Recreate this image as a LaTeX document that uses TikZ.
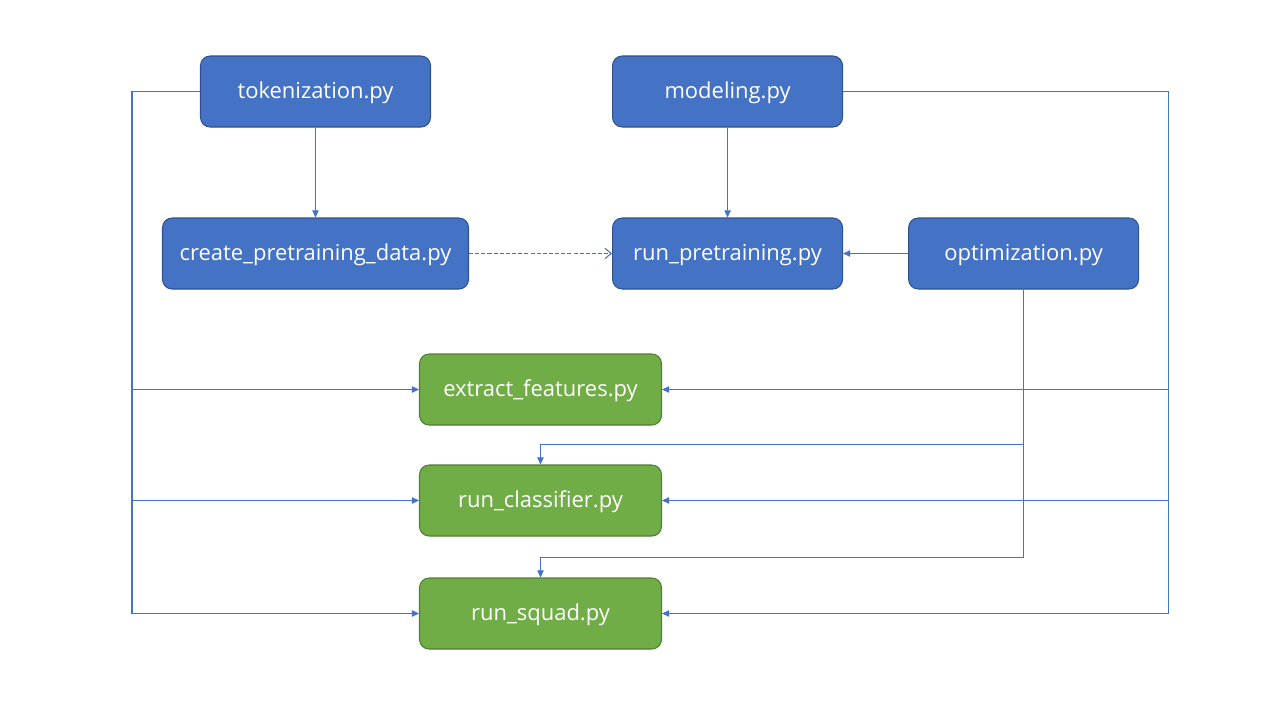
\documentclass[tikz,border=0pt]{standalone}
\usepackage{fontspec}
\setmainfont{Open Sans}
\usepackage{tikz}
\usetikzlibrary{arrows.meta,positioning}

\definecolor{boxblue}{HTML}{4472C4}
\definecolor{edgeblue}{HTML}{2F528F}
\definecolor{boxgreen}{HTML}{70AD47}
\definecolor{edgegreen}{HTML}{507E32}

\begin{document}
\begin{tikzpicture}[node distance=1.82cm,
                    font=\fontsize{12.5}{15}\selectfont,
                    module/.style={draw=edgeblue,fill=boxblue,text=white,rounded corners=5.5pt,
                                   line width=0.6pt,minimum width=4.6cm,minimum height=1.42cm,
                                   text height=0.9em,text depth=0.1em},
                    script/.style={module,draw=edgegreen,fill=boxgreen,minimum width=4.84cm},
                    link/.style={draw=boxblue,line width=0.6pt,-{Triangle[length=4pt,width=3.6pt]}},
                    soft/.style={draw=boxblue,line width=0.6pt,dash pattern=on 2.3pt off 1.2pt,
                                 -{Straight Barb[length=3.6pt,width=6pt]}}]

        \useasboundingbox (0,0) rectangle (25.6,-14.4);

        \node[module]            (tok) at (6.31,-1.83)         {tokenization.py};
        \node[module]            (mod) [right=3.62cm of tok]   {modeling.py};
        \node[module,minimum width=6.12cm] (pre) [below of=tok,node distance=3.24cm] {create\_pretraining\_data.py};
        \node[module]            (run) [below of=mod,node distance=3.24cm] {run\_pretraining.py};
        \node[module]            (opt) [right=1.3cm of run]    {optimization.py};
        \node[script]            (ext) at (10.81,-7.79)        {extract\_features.py};
        \node[script]            (cls) at (10.81,-10.01)       {run\_classifier.py};
        \node[script]            (squad) at (10.81,-12.27)     {run\_squad.py};

        \path   (tok) edge[link] (pre)
                (mod) edge[link] (run)
                (pre) edge[soft] (run)
                (opt) edge[link] (run);

        \draw[link] (tok.west) -- ++(-1.36,0) coordinate (tl) |- (squad.west);
        \draw[link] (tl |- ext.west) -- (ext.west);
        \draw[link] (tl |- cls.west) -- (cls.west);

        \draw[link] (mod.east) -- ++(6.5,0) coordinate (mr) |- (squad.east);
        \draw[link] (mr |- ext.east) -- (ext.east);
        \draw[link] (mr |- cls.east) -- (cls.east);

        \draw[link] (opt.south) |- ([yshift=0.4cm]squad.north) -- (squad.north);
        \draw[link] (opt.south) |- ([yshift=0.4cm]cls.north) -- (cls.north);

\end{tikzpicture}
\end{document}
